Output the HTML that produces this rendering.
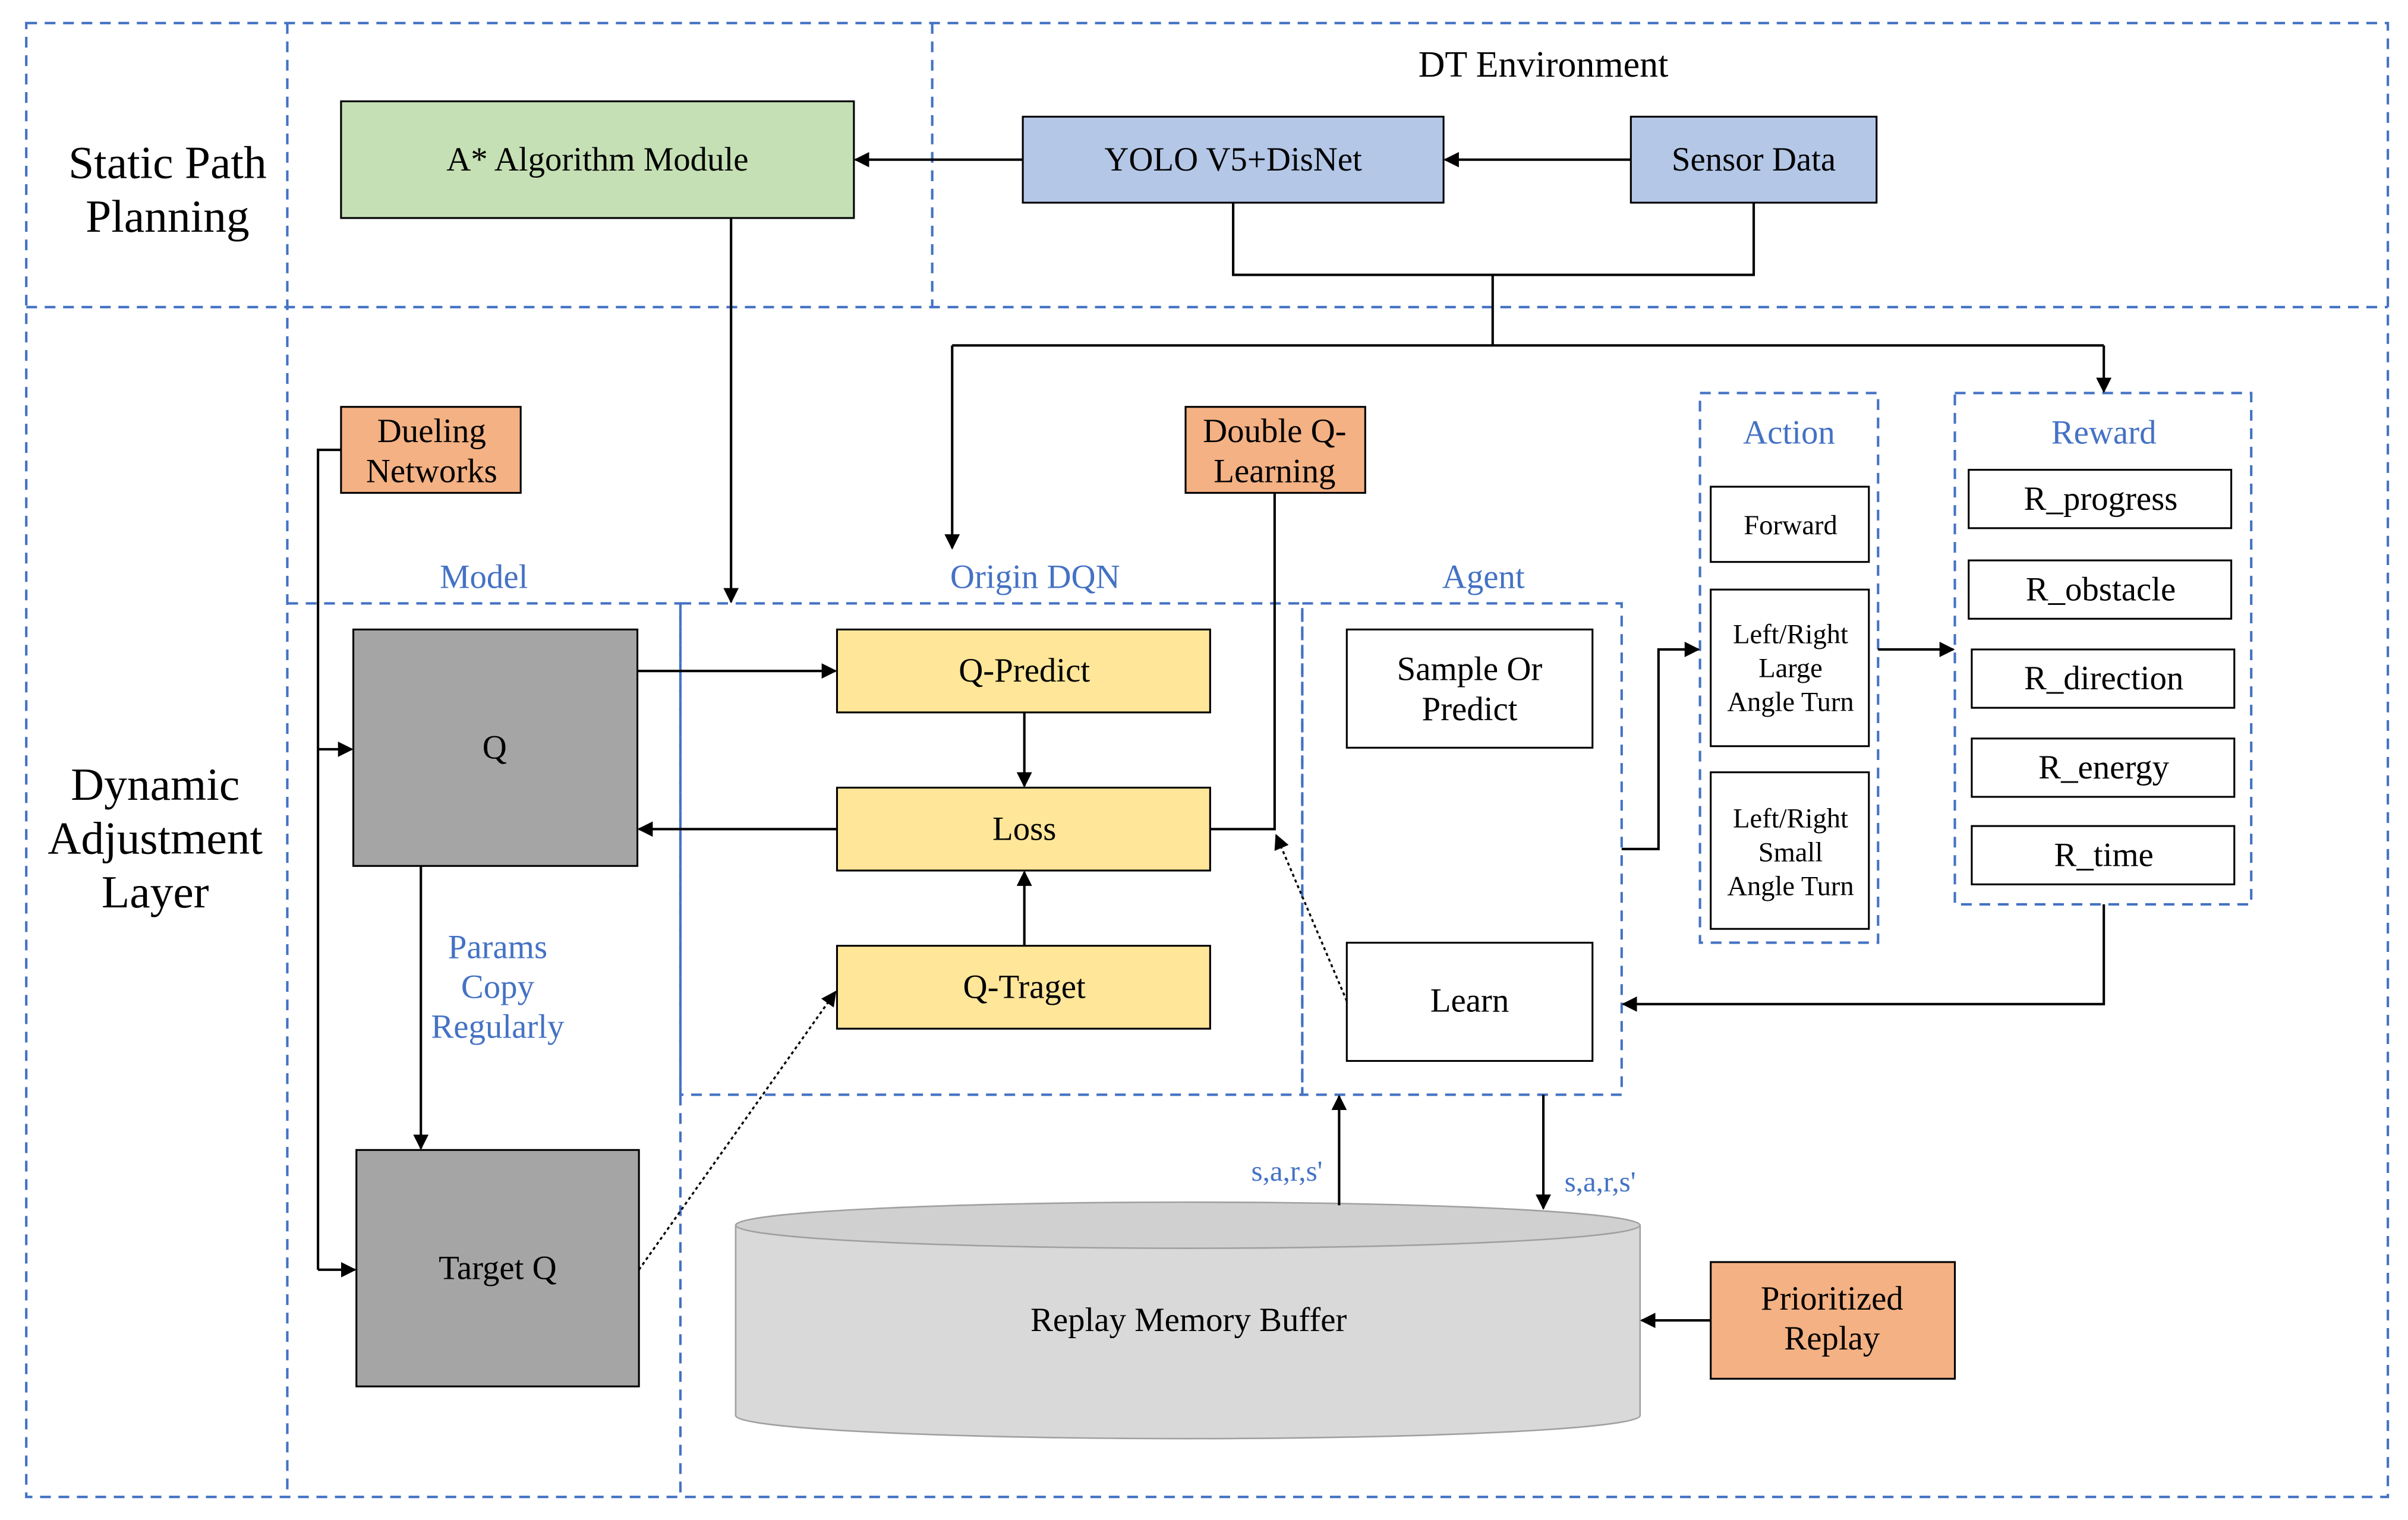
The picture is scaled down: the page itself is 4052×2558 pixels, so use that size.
<!DOCTYPE html>
<html><head><meta charset="utf-8"><style>
html,body{margin:0;padding:0;background:#fff;}
svg{display:block;}
text{font-family:"Liberation Serif",serif;fill:#000;}
.b{fill:#4472c4;}
</style></head><body>
<svg width="4052" height="2558" viewBox="0 0 1568 990" xmlns="http://www.w3.org/2000/svg">
<defs><marker id="a" markerWidth="10" markerHeight="10" refX="9" refY="5" orient="auto" markerUnits="userSpaceOnUse"><path d="M0,0 L10,5 L0,10 z" fill="#000"/></marker></defs>
<rect width="1568" height="990" fill="#fff"/>
<g fill="none" stroke="#4472c4" stroke-width="1.6" stroke-dasharray="7,5">
<rect x="17" y="15" width="1538" height="960"/>
<line x1="17" y1="200" x2="1555" y2="200"/>
<line x1="187" y1="15" x2="187" y2="975"/>
<line x1="607" y1="15" x2="607" y2="200"/>
<polyline points="187,393 443,393 443,975"/>
<rect x="443" y="393" width="405" height="320"/>
<rect x="848" y="393" width="208" height="320"/>
<rect x="1107" y="256" width="116" height="358"/>
<rect x="1273" y="256" width="193" height="333"/>
</g>
<g stroke="#000" stroke-width="1.2">
<rect x="222" y="66" width="334" height="76" fill="#c5e0b4"/>
<rect x="666" y="76" width="274" height="56" fill="#b4c7e7"/>
<rect x="1062" y="76" width="160" height="56" fill="#b4c7e7"/>
<rect x="222" y="265" width="117" height="56" fill="#f4b183"/>
<rect x="772" y="265" width="117" height="56" fill="#f4b183"/>
<rect x="230" y="410" width="185" height="154" fill="#a5a5a5"/>
<rect x="232" y="749" width="184" height="154" fill="#a5a5a5"/>
<rect x="545" y="410" width="243" height="54" fill="#ffe699"/>
<rect x="545" y="513" width="243" height="54" fill="#ffe699"/>
<rect x="545" y="616" width="243" height="54" fill="#ffe699"/>
<rect x="877" y="410" width="160" height="77" fill="#fff"/>
<rect x="877" y="614" width="160" height="77" fill="#fff"/>
<rect x="1114" y="317" width="103" height="49" fill="#fff"/>
<rect x="1114" y="384" width="103" height="102" fill="#fff"/>
<rect x="1114" y="503" width="103" height="102" fill="#fff"/>
<rect x="1282" y="306" width="171" height="38" fill="#fff"/>
<rect x="1282" y="365" width="171" height="38" fill="#fff"/>
<rect x="1284" y="423" width="171" height="38" fill="#fff"/>
<rect x="1284" y="481" width="171" height="38" fill="#fff"/>
<rect x="1284" y="538" width="171" height="38" fill="#fff"/>
<rect x="1114" y="822" width="159" height="76" fill="#f4b183"/>
</g>
<g stroke="#a0a0a0" stroke-width="1">
<path d="M479,798 L479,922 A294.5,15 0 0 0 1068,922 L1068,798" fill="#d9d9d9"/>
<ellipse cx="773.5" cy="798" rx="294.5" ry="15" fill="#d0d0d0"/>
</g>
<g fill="none" stroke="#000" stroke-width="1.6">
<line x1="666" y1="104" x2="557" y2="104" marker-end="url(#a)"/>
<line x1="1062" y1="104" x2="941" y2="104" marker-end="url(#a)"/>
<polyline points="803,132 803,179 1142,179 1142,132"/>
<line x1="972" y1="179" x2="972" y2="225"/>
<polyline points="620,225 1370,225"/>
<line x1="620" y1="225" x2="620" y2="357" marker-end="url(#a)"/>
<line x1="1370" y1="225" x2="1370" y2="255" marker-end="url(#a)"/>
<line x1="476" y1="142" x2="476" y2="392" marker-end="url(#a)"/>
<polyline points="222,293 207,293 207,827"/>
<line x1="207" y1="488" x2="229" y2="488" marker-end="url(#a)"/>
<line x1="207" y1="827" x2="231" y2="827" marker-end="url(#a)"/>
<line x1="415" y1="437" x2="544" y2="437" marker-end="url(#a)"/>
<line x1="545" y1="540" x2="416" y2="540" marker-end="url(#a)"/>
<line x1="667" y1="464" x2="667" y2="512" marker-end="url(#a)"/>
<line x1="667" y1="616" x2="667" y2="568" marker-end="url(#a)"/>
<line x1="274" y1="564" x2="274" y2="748" marker-end="url(#a)"/>
<polyline points="788,540 830,540 830,321"/>
<polyline points="1056,553 1080,553 1080,423 1106,423" marker-end="url(#a)"/>
<line x1="1223" y1="423" x2="1272" y2="423" marker-end="url(#a)"/>
<polyline points="1370,589 1370,654 1057,654" marker-end="url(#a)"/>
<line x1="872" y1="785" x2="872" y2="714" marker-end="url(#a)"/>
<line x1="1005" y1="713" x2="1005" y2="787" marker-end="url(#a)"/>
<line x1="1114" y1="860" x2="1069" y2="860" marker-end="url(#a)"/>
<line x1="416" y1="827" x2="544" y2="646" stroke-dasharray="2,2" stroke-width="1.3" marker-end="url(#a)"/>
<line x1="877" y1="652" x2="831" y2="544" stroke-dasharray="2,2" stroke-width="1.3" marker-end="url(#a)"/>
</g>
<g text-anchor="middle" font-size="22">
<text x="109" y="116" font-size="30">Static Path</text>
<text x="109" y="151" font-size="30">Planning</text>
<text x="101" y="521" font-size="30">Dynamic</text>
<text x="101" y="556" font-size="30">Adjustment</text>
<text x="101" y="591" font-size="30">Layer</text>
<text x="1005" y="50" font-size="24">DT Environment</text>
<text x="389" y="111">A* Algorithm Module</text>
<text x="803" y="111">YOLO V5+DisNet</text>
<text x="1142" y="111">Sensor Data</text>
<text x="281" y="288">Dueling</text>
<text x="281" y="314">Networks</text>
<text x="830" y="288">Double Q-</text>
<text x="830" y="314">Learning</text>
<text class="b" x="315" y="383">Model</text>
<text class="b" x="674" y="383">Origin DQN</text>
<text class="b" x="966" y="383">Agent</text>
<text class="b" x="1165" y="289">Action</text>
<text class="b" x="1370" y="289">Reward</text>
<text x="322" y="494">Q</text>
<text x="324" y="833">Target Q</text>
<text x="667" y="444">Q-Predict</text>
<text x="667" y="547">Loss</text>
<text x="667" y="650">Q-Traget</text>
<text class="b" x="324" y="624">Params</text>
<text class="b" x="324" y="650">Copy</text>
<text class="b" x="324" y="676">Regularly</text>
<text x="957" y="443">Sample Or</text>
<text x="957" y="469">Predict</text>
<text x="957" y="659">Learn</text>
<text x="1166" y="348" font-size="18">Forward</text>
<text x="1166" y="419" font-size="18">Left/Right</text>
<text x="1166" y="441" font-size="18">Large</text>
<text x="1166" y="463" font-size="18">Angle Turn</text>
<text x="1166" y="539" font-size="18">Left/Right</text>
<text x="1166" y="561" font-size="18">Small</text>
<text x="1166" y="583" font-size="18">Angle Turn</text>
<text x="1368" y="332">R_progress</text>
<text x="1368" y="391">R_obstacle</text>
<text x="1370" y="449">R_direction</text>
<text x="1370" y="507">R_energy</text>
<text x="1370" y="564">R_time</text>
<text x="774" y="867">Replay Memory Buffer</text>
<text x="1193" y="853">Prioritized</text>
<text x="1193" y="879">Replay</text>
<text class="b" x="838" y="769" font-size="19">s,a,r,s'</text>
<text class="b" x="1042" y="776" font-size="19">s,a,r,s'</text>
</g>
</svg>
</body></html>
